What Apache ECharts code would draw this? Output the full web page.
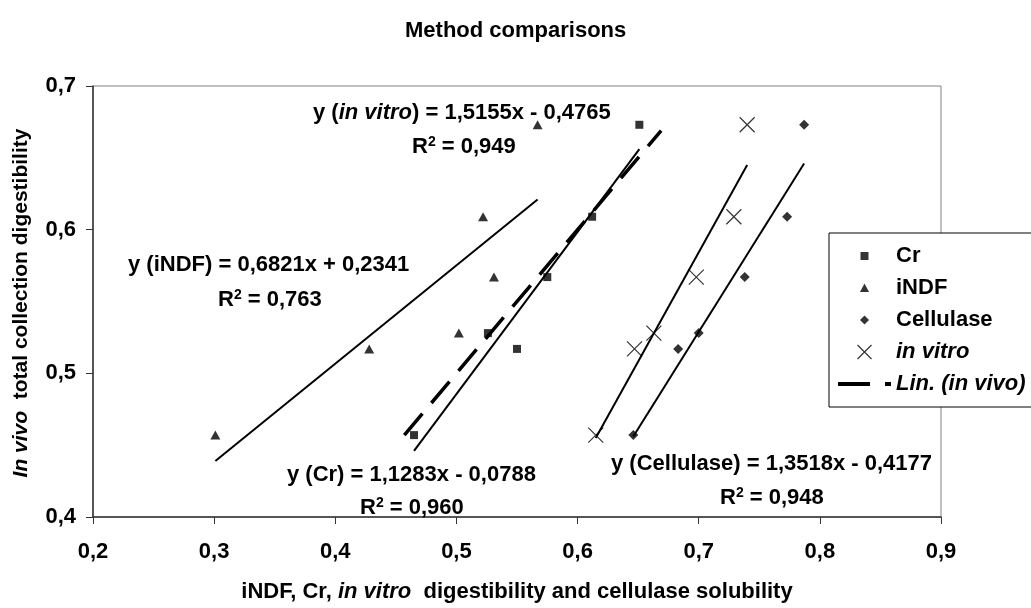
<!DOCTYPE html>
<html>
<head>
<meta charset="utf-8">
<script src="https://cdn.jsdelivr.net/npm/echarts@6/dist/echarts.min.js"></script>
<style>
html,body{margin:0;padding:0;background:#fff;}
#chart{width:1031px;height:608px;}
</style>
</head>
<body>
<div id="chart"></div>
<script>
// ---- data ----
var inVivo = [0.457, 0.517, 0.528, 0.567, 0.609, 0.673];
var crX = [0.465, 0.550, 0.526, 0.575, 0.612, 0.651];
var indfX = [0.301, 0.428, 0.502, 0.531, 0.522, 0.567];
var cellX = [0.646, 0.683, 0.700, 0.738, 0.773, 0.787];
var vitroX = [0.615, 0.647, 0.663, 0.698, 0.729, 0.740];

// trend line end points
var indfFit = [[0.301, 0.439], [0.567, 0.621]];
var crFit = [[0.465, 0.446], [0.651, 0.656]];
var cellFit = [[0.646, 0.456], [0.787, 0.646]];
var vitroFit = [[0.615, 0.455], [0.740, 0.645]];
var vivoLine = [[0.457, 0.457], [0.669, 0.669]];

var xTicks = [0.2, 0.3, 0.4, 0.5, 0.6, 0.7, 0.8, 0.9];
var yTicks = [0.4, 0.5, 0.6, 0.7];

var FONT = 'Arial, "Liberation Sans", sans-serif';

function pairs(xs, ys) { return xs.map(function (x, i) { return [x, ys[i]]; }); }
function fmt(v) { return v.toFixed(1).replace('.', ','); }

var chart = echarts.init(document.getElementById('chart'));

var base = { fontFamily: FONT, fontWeight: 'bold', fontSize: 22, lineHeight: 24, color: '#000' };
var richStyles = {
  a: base,
  i: Object.assign({}, base, { fontStyle: 'italic' }),
  s: { fontFamily: FONT, fontWeight: 'bold', fontSize: 14, lineHeight: 14, verticalAlign: 'top', color: '#000' }
};
var legendRich = {
  i: { fontFamily: FONT, fontWeight: 'bold', fontStyle: 'italic', fontSize: 22, lineHeight: 21, color: '#000' }
};

function annot(x, y, text) {
  return {
    type: 'text', x: x, y: y, z: 100,
    style: { text: text, rich: richStyles, fill: '#000', font: 'bold 22px ' + FONT, verticalAlign: 'middle', align: 'left' }
  };
}

var lineSolid = { color: '#000', width: 2 };

var option = {
  backgroundColor: '#fff',
  animation: false,
  title: {
    text: 'Method comparisons', left: 400, top: 15,
    textStyle: { fontFamily: FONT, fontWeight: 'bold', fontSize: 22, color: '#000' }
  },
  grid: { left: 93, right: 90, top: 86, bottom: 87, show: true, borderColor: '#808080', borderWidth: 1 },
  xAxis: {
    type: 'value', min: xTicks[0], max: xTicks[xTicks.length - 1], interval: 0.1,
    axisLine: { lineStyle: { color: '#333', width: 1.5 } },
    axisTick: { show: true, inside: false, length: 7, lineStyle: { color: '#333', width: 1 } },
    splitLine: { show: false },
    axisLabel: { formatter: fmt, margin: 24, fontFamily: FONT, fontWeight: 'bold', fontSize: 22, color: '#000' },
    name: '{a|iNDF, Cr, }{i|in vitro}{a|  digestibility and cellulase solubility}',
    nameLocation: 'middle', nameGap: 63,
    nameTextStyle: { rich: richStyles }
  },
  yAxis: {
    type: 'value', min: yTicks[0], max: yTicks[yTicks.length - 1], interval: 0.1,
    axisLine: { show: true, lineStyle: { color: '#333', width: 1.5 } },
    axisTick: { show: true, inside: false, length: 7, lineStyle: { color: '#333', width: 1 } },
    splitLine: { show: false },
    axisLabel: { formatter: fmt, margin: 17, fontFamily: FONT, fontWeight: 'bold', fontSize: 22, color: '#000' }
  },
  legend: {
    orient: 'vertical', left: 829, top: 233,
    padding: [12, 60, 12, 7],
    itemWidth: 53, itemHeight: 14, itemGap: 10,
    borderColor: '#000', borderWidth: 1, backgroundColor: '#fff',
    textStyle: { fontFamily: FONT, fontWeight: 'bold', fontSize: 22, lineHeight: 21, color: '#000', rich: legendRich },
    formatter: function (name) {
      if (name === 'in vitro' || name === 'Lin. (in vivo)') return '{i|' + name + '}';
      return name;
    },
    data: [
      { name: 'Cr', icon: 'path://M0,0L0,0M14,14L14,14M3,3L11,3L11,11L3,11Z', itemStyle: { color: '#000', borderWidth: 0 } },
      { name: 'iNDF', icon: 'path://M0,0L0,0M14,14L14,14M7,2.5L11.5,11L2.5,11Z', itemStyle: { color: '#000', borderWidth: 0 } },
      { name: 'Cellulase', icon: 'path://M0,0L0,0M14,14L14,14M7,2.5L11.5,7L7,11.5L2.5,7Z', itemStyle: { color: '#000', borderWidth: 0 } },
      { name: 'in vitro', icon: 'path://M0.5,0.5L13.5,13.5M13.5,0.5L0.5,13.5', itemStyle: { color: 'rgba(0,0,0,0)', borderColor: '#000', borderWidth: 1.2 } },
      { name: 'Lin. (in vivo)', itemStyle: { color: 'rgba(0,0,0,0)', borderColor: 'rgba(0,0,0,0)', borderWidth: 0, opacity: 0 },
        lineStyle: { color: '#000', width: 4, type: [32, 15] } }
    ]
  },
  graphic: [
    annot(313, 113, '{a|y (}{i|in vitro}{a|) = 1,5155x - 0,4765}'),
    annot(412, 147, '{a|R}{s|2}{a| = 0,949}'),
    annot(128, 265, '{a|y (iNDF) = 0,6821x + 0,2341}'),
    annot(218, 300, '{a|R}{s|2}{a| = 0,763}'),
    annot(287, 475, '{a|y (Cr) = 1,1283x - 0,0788}'),
    annot(360, 508, '{a|R}{s|2}{a| = 0,960}'),
    annot(611, 464, '{a|y (Cellulase) = 1,3518x - 0,4177}'),
    annot(720, 498, '{a|R}{s|2}{a| = 0,948}'),
    {
      type: 'text', x: 21, y: 303, rotation: Math.PI / 2, z: 100,
      style: {
        text: '{i|In vivo}{a|  total collection digestibility}',
        rich: {
          a: Object.assign({}, base, { fontSize: 21 }),
          i: Object.assign({}, base, { fontSize: 21, fontStyle: 'italic' })
        },
        align: 'center', verticalAlign: 'middle', fill: '#000'
      }
    }
  ],
  series: [
    { name: 'iNDF fit', type: 'line', data: indfFit, symbol: 'none', lineStyle: lineSolid, z: 2 },
    { name: 'Cr fit', type: 'line', data: crFit, symbol: 'none', lineStyle: lineSolid, z: 2 },
    { name: 'Cellulase fit', type: 'line', data: cellFit, symbol: 'none', lineStyle: lineSolid, z: 2 },
    { name: 'in vitro fit', type: 'line', data: vitroFit, symbol: 'none', lineStyle: lineSolid, z: 2 },
    { name: 'Lin. (in vivo)', type: 'line', data: vivoLine, symbol: 'none', itemStyle: { color: '#000' },
      lineStyle: { color: '#000', width: 3.5, type: [28, 14] }, z: 3 },
    { name: 'Cr', type: 'scatter', data: pairs(crX, inVivo), symbol: 'rect', symbolSize: 8, itemStyle: { color: '#000' }, z: 4 },
    { name: 'iNDF', type: 'scatter', data: pairs(indfX, inVivo), symbol: 'triangle', symbolSize: [10, 9], itemStyle: { color: '#000' }, z: 4 },
    { name: 'Cellulase', type: 'scatter', data: pairs(cellX, inVivo), symbol: 'diamond', symbolSize: 10, itemStyle: { color: '#000' }, z: 4 },
    { name: 'in vitro', type: 'scatter', data: pairs(vitroX, inVivo), symbol: 'path://M0,0L10,10M10,0L0,10', symbolSize: 15,
      itemStyle: { color: 'rgba(0,0,0,0)', borderColor: '#000', borderWidth: 1.2 }, z: 4 }
  ]
};
chart.setOption(option);
</script>
</body>
</html>
